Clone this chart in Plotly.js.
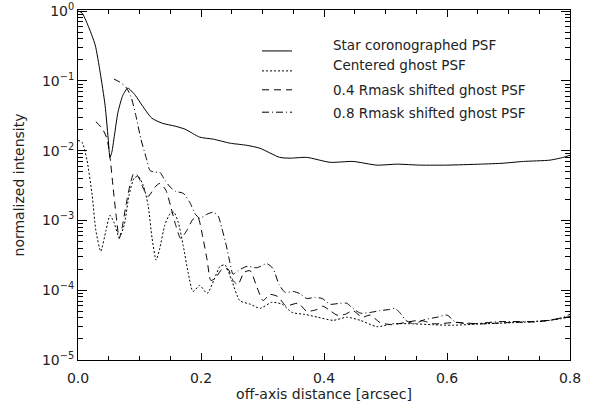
<!DOCTYPE html>
<html>
<head>
<meta charset="utf-8">
<script src="https://cdn.plot.ly/plotly-3.0.1.min.js"></script>
<style>html,body{margin:0;padding:0;background:#fff}</style>
</head>
<body>
<div id="chart" style="width:600px;height:407px"></div>
<script>
// Star coronographed PSF (solid)
const starX = [0, 0.0065, 0.016, 0.028, 0.036, 0.044, 0.049, 0.052, 0.055, 0.060, 0.065, 0.073, 0.081, 0.093, 0.104, 0.120, 0.137, 0.158, 0.174, 0.198, 0.220, 0.247, 0.275, 0.296, 0.328, 0.345, 0.372, 0.410, 0.447, 0.486, 0.519, 0.556, 0.600, 0.654, 0.691, 0.724, 0.767, 0.789, 0.800];
const starY = [1.0, 0.94, 0.63, 0.325, 0.133, 0.0448, 0.0151, 0.0080, 0.0095, 0.0184, 0.0356, 0.0623, 0.0786, 0.0623, 0.0448, 0.0292, 0.0247, 0.0224, 0.0203, 0.0156, 0.0146, 0.0128, 0.0119, 0.0108, 0.0080, 0.0078, 0.0080, 0.0068, 0.0070, 0.0062, 0.0064, 0.0062, 0.0062, 0.0064, 0.0066, 0.0070, 0.0073, 0.0080, 0.0086];

// Centered ghost PSF (dotted)
const centX = [0, 0.0065, 0.0146, 0.023, 0.029, 0.037, 0.0455, 0.052, 0.0585, 0.067, 0.075, 0.083, 0.091, 0.0976, 0.106, 0.114, 0.1205, 0.127, 0.133, 0.141, 0.150, 0.156, 0.163, 0.171, 0.179, 0.187, 0.198, 0.210, 0.221, 0.231, 0.239, 0.250, 0.263, 0.280, 0.296, 0.315, 0.332, 0.348, 0.369, 0.390, 0.415, 0.437, 0.459, 0.486, 0.512, 0.545, 0.577, 0.610, 0.659, 0.714, 0.767, 0.800];
const centY = [0.014, 0.0132, 0.0073, 0.0023, 7.2e-4, 3.6e-4, 7.2e-4, 1.18e-3, 9.4e-4, 5.7e-4, 8.5e-4, 2.3e-3, 4.0e-3, 4.3e-3, 3.2e-3, 1.65e-3, 5.5e-4, 2.7e-4, 4.0e-4, 8.5e-4, 1.26e-3, 1.31e-3, 9.4e-4, 4.4e-4, 1.8e-4, 9.6e-5, 1.17e-4, 9.0e-5, 1.4e-4, 2.2e-4, 2.3e-4, 1.38e-4, 7.1e-5, 6.3e-5, 5.5e-5, 6.7e-5, 6.3e-5, 4.8e-5, 4.5e-5, 4.1e-5, 3.7e-5, 4.1e-5, 3.7e-5, 3.0e-5, 3.3e-5, 3.3e-5, 3.2e-5, 3.15e-5, 3.3e-5, 3.45e-5, 3.7e-5, 4.1e-5];

// 0.4 Rmask shifted ghost PSF (dashed)
const s04X = [0.029, 0.039, 0.047, 0.052, 0.057, 0.062, 0.067, 0.0715, 0.078, 0.0845, 0.091, 0.0976, 0.106, 0.114, 0.125, 0.133, 0.143, 0.151, 0.159, 0.167, 0.177, 0.187, 0.195, 0.203, 0.210, 0.216, 0.224, 0.234, 0.244, 0.252, 0.260, 0.270, 0.280, 0.291, 0.301, 0.312, 0.325, 0.338, 0.358, 0.372, 0.389, 0.398, 0.410, 0.421, 0.434, 0.447, 0.462, 0.475, 0.491, 0.511, 0.532, 0.556, 0.580, 0.613, 0.654, 0.702, 0.751, 0.800];
const s04Y = [0.026, 0.021, 0.015, 8.1e-3, 3.0e-3, 1.17e-3, 5.5e-4, 7.7e-4, 1.65e-3, 3.2e-3, 4.8e-3, 4.3e-3, 2.9e-3, 2.2e-3, 3.0e-3, 3.4e-3, 2.7e-3, 1.55e-3, 8.5e-4, 5.5e-4, 7.2e-4, 1.04e-3, 1.1e-3, 5.7e-4, 2.7e-4, 1.38e-4, 1.5e-4, 2.0e-4, 2.0e-4, 1.38e-4, 1.2e-4, 1.8e-4, 1.9e-4, 1.1e-4, 7.1e-5, 8.7e-5, 8.1e-5, 6.0e-5, 6.5e-5, 5.0e-5, 5.3e-5, 5.9e-5, 5.1e-5, 4.4e-5, 4.5e-5, 5.1e-5, 4.1e-5, 4.4e-5, 3.45e-5, 3.2e-5, 3.45e-5, 3.7e-5, 3.3e-5, 3.45e-5, 3.3e-5, 3.45e-5, 3.55e-5, 4.2e-5];

// 0.8 Rmask shifted ghost PSF (dash-dot)
const s08X = [0.0585, 0.068, 0.078, 0.086, 0.094, 0.102, 0.111, 0.117, 0.125, 0.133, 0.141, 0.150, 0.159, 0.171, 0.182, 0.190, 0.198, 0.210, 0.220, 0.228, 0.234, 0.241, 0.247, 0.252, 0.260, 0.275, 0.291, 0.307, 0.317, 0.327, 0.337, 0.350, 0.361, 0.372, 0.385, 0.397, 0.410, 0.426, 0.437, 0.447, 0.459, 0.475, 0.491, 0.507, 0.515, 0.524, 0.533, 0.546, 0.564, 0.584, 0.600, 0.613, 0.637, 0.686, 0.735, 0.776, 0.800];
const s08Y = [0.106, 0.096, 0.081, 0.060, 0.032, 0.015, 7.8e-3, 5.2e-3, 4.9e-3, 4.9e-3, 3.8e-3, 3.0e-3, 2.6e-3, 2.45e-3, 1.8e-3, 1.26e-3, 1.07e-3, 1.23e-3, 1.31e-3, 1.15e-3, 7.7e-4, 4.4e-4, 2.5e-4, 1.7e-4, 1.9e-4, 2.2e-4, 2.1e-4, 2.4e-4, 2.05e-4, 1.2e-4, 9.3e-5, 9.6e-5, 8.9e-5, 7.6e-5, 7.9e-5, 7.6e-5, 6.3e-5, 6.5e-5, 6.5e-5, 5.5e-5, 4.7e-5, 4.8e-5, 5.1e-5, 5.3e-5, 5.5e-5, 4.7e-5, 3.7e-5, 3.3e-5, 3.8e-5, 4.1e-5, 4.4e-5, 3.55e-5, 3.3e-5, 3.55e-5, 3.55e-5, 3.8e-5, 4.5e-5];

const seriesNames = ["Star coronographed PSF", "Centered ghost PSF", "0.4 Rmask shifted ghost PSF", "0.8 Rmask shifted ghost PSF"];
const xTickVals = [0, 0.2, 0.4, 0.6, 0.8];
const xTickText = ["0.0", "0.2", "0.4", "0.6", "0.8"];
const yTickVals = [1e-5, 1e-4, 1e-3, 1e-2, 1e-1, 1];
const yTickText = ["10<sup>\u22125</sup>", "10<sup>\u22124</sup>", "10<sup>\u22123</sup>", "10<sup>\u22122</sup>", "10<sup>\u22121</sup>", "10<sup>0</sup>"];
const yMinorVals = [];
for (const d of [1e-5, 1e-4, 1e-3, 1e-2, 1e-1]) for (let m = 2; m <= 9; m++) yMinorVals.push(m * d);

const dashes = ["solid", "2px,2px", "7px,5px", "7px,3px,1px,3px"];
const xs = [starX, centX, s04X, s08X];
const ys = [starY, centY, s04Y, s08Y];

const FONT = "DejaVu Sans, sans-serif";
const traces = xs.map((x, i) => ({
  x: x, y: ys[i], type: "scatter", mode: "lines", name: seriesNames[i],
  line: {color: "#000", width: 1, dash: dashes[i], shape: "spline", smoothing: 0.6},
  showlegend: false, hoverinfo: "skip"
}));

// Legend drawn in paper coordinates
const legRowsY = [0.883, 0.826, 0.772, 0.708];
const legTextY = [0.900, 0.843, 0.772, 0.706];
const shapes = legRowsY.map((yy, i) => ({
  type: "line", xref: "paper", yref: "paper", x0: 0.374, x1: 0.435, y0: yy, y1: yy,
  line: {color: "#000", width: 1, dash: dashes[i]}
}));
const annotations = seriesNames.map((t, i) => ({
  text: t, xref: "paper", yref: "paper", x: 0.514, y: legTextY[i], xanchor: "left", yanchor: "middle",
  showarrow: false, font: {family: FONT, size: 13.5, color: "#222"}
}));

const layout = {
  width: 600, height: 407,
  margin: {l: 78, r: 30, t: 10, b: 47},
  paper_bgcolor: "#fff", plot_bgcolor: "#fff",
  showlegend: false,
  font: {family: FONT, size: 14, color: "#222"},
  xaxis: {
    range: [0, 0.8], tickmode: "array", tickvals: xTickVals, ticktext: xTickText,
    ticks: "inside", ticklen: 7, tickwidth: 1, tickcolor: "#000", ticklabelstandoff: 5,
    showline: true, linecolor: "#000", linewidth: 1, mirror: "ticks",
    showgrid: false, zeroline: false,
    minor: {dtick: 0.05, ticks: "inside", ticklen: 4, tickcolor: "#000", showgrid: false},
    tickfont: {family: FONT, size: 14, color: "#222"},
    title: {text: "off-axis distance [arcsec]", font: {family: FONT, size: 14, color: "#222"}, standoff: 2}
  },
  yaxis: {
    type: "log", range: [-5, 0.015], tickmode: "array", tickvals: yTickVals, ticktext: yTickText,
    ticks: "inside", ticklen: 9, tickwidth: 1, tickcolor: "#000",
    showline: true, linecolor: "#000", linewidth: 1, mirror: "ticks",
    showgrid: false, zeroline: false,
    minor: {tickmode: "array", tickvals: yMinorVals, ticks: "inside", ticklen: 5, tickcolor: "#000", showgrid: false},
    tickfont: {family: FONT, size: 14, color: "#222"},
    title: {text: "normalized intensity", font: {family: FONT, size: 14, color: "#222"}, standoff: 14}
  },
  shapes: shapes,
  annotations: annotations
};

Plotly.newPlot("chart", traces, layout, {displayModeBar: false, staticPlot: true});
</script>
</body>
</html>
